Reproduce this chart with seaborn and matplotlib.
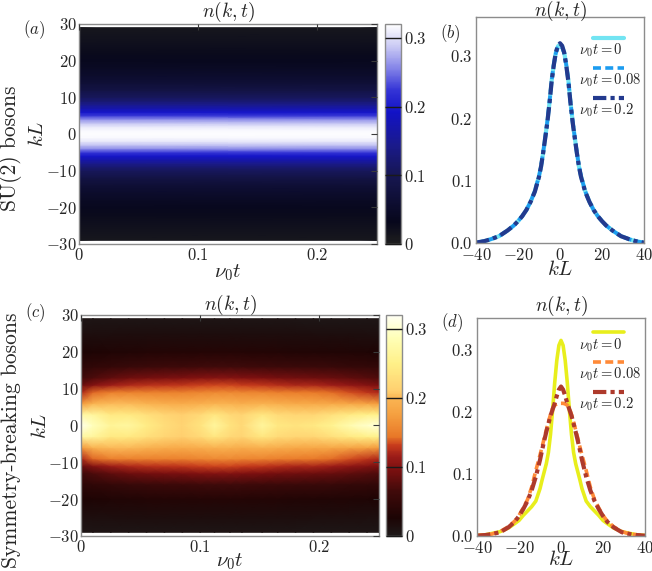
import numpy as np
import matplotlib
matplotlib.use("Agg")
import matplotlib.pyplot as plt
import seaborn as sns
from matplotlib.colors import LinearSegmentedColormap
from matplotlib.legend_handler import HandlerLine2D

# ---------------- data ----------------
# half momentum grid (kL >= 0); distributions are symmetric in kL
k_half = [0, 1, 2, 3, 4, 5, 6, 7, 8, 9, 10, 12, 14, 16, 18, 20, 22, 25, 29, 33, 36, 40]

# SU(2) bosons, n(k,t) at three times
n_su2_t0 = [0.318, 0.315, 0.305, 0.285, 0.26, 0.225, 0.195, 0.17, 0.145, 0.123, 0.107,
            0.083, 0.066, 0.053, 0.043, 0.035, 0.028, 0.02, 0.011, 0.006, 0.003, 0.0005]
n_su2_t008 = [0.316, 0.313, 0.304, 0.285, 0.26, 0.226, 0.196, 0.17, 0.146, 0.124, 0.107,
              0.083, 0.066, 0.053, 0.043, 0.035, 0.028, 0.02, 0.011, 0.006, 0.003, 0.0005]
n_su2_t02 = [0.32, 0.316, 0.305, 0.284, 0.258, 0.224, 0.194, 0.169, 0.145, 0.123, 0.106,
             0.082, 0.066, 0.053, 0.043, 0.035, 0.028, 0.02, 0.011, 0.006, 0.003, 0.0005]

# Symmetry-breaking bosons, n(k,t) at three times
n_sb_t0 = [0.314, 0.306, 0.282, 0.246, 0.202, 0.163, 0.134, 0.116, 0.103, 0.09, 0.076,
           0.056, 0.047, 0.04, 0.033, 0.025, 0.02, 0.013, 0.007, 0.004, 0.002, 0.001]
n_sb_t008 = [0.213, 0.213, 0.212, 0.21, 0.205, 0.195, 0.183, 0.17, 0.157, 0.143, 0.13,
             0.105, 0.078, 0.058, 0.045, 0.033, 0.024, 0.015, 0.007, 0.003, 0.002, 0.0005]
n_sb_t02 = [0.24, 0.235, 0.225, 0.213, 0.203, 0.193, 0.18, 0.167, 0.153, 0.138, 0.122,
            0.095, 0.073, 0.056, 0.043, 0.032, 0.023, 0.014, 0.006, 0.003, 0.0015, 0.0005]

# heatmap (a): stationary distribution over the time window
t_a = [0.0, 0.25]

# heatmap (c): rows of n(k,t) at fixed kL >= 0, sampled at times t_c
t_c = [0, 0.01, 0.025, 0.04, 0.055, 0.07, 0.085, 0.1, 0.112, 0.125, 0.135, 0.152,
       0.165, 0.18, 0.195, 0.21, 0.225, 0.24, 0.25]
k_c_half = [0, 3, 6, 9, 11, 13, 16, 20, 25, 29]
nc_k0 = [0.314, 0.29, 0.262, 0.268, 0.245, 0.228, 0.215, 0.235, 0.265, 0.235, 0.222, 0.265,
         0.24, 0.235, 0.24, 0.255, 0.28, 0.298, 0.305]
nc_k3 = [0.27, 0.265, 0.24, 0.242, 0.23, 0.218, 0.21, 0.222, 0.238, 0.222, 0.215, 0.238,
         0.224, 0.218, 0.218, 0.23, 0.242, 0.25, 0.252]
nc_k6 = [0.17, 0.195, 0.2, 0.2, 0.195, 0.19, 0.188, 0.192, 0.196, 0.194, 0.19, 0.194,
         0.19, 0.186, 0.184, 0.184, 0.182, 0.178, 0.172]
nc_k9 = [0.12, 0.14, 0.15, 0.152, 0.152, 0.152, 0.152, 0.156, 0.158, 0.158, 0.156, 0.154,
         0.15, 0.148, 0.146, 0.142, 0.135, 0.128, 0.122]
nc_k11 = [0.085, 0.1, 0.115, 0.122, 0.125, 0.127, 0.128, 0.132, 0.133, 0.133, 0.131, 0.128,
          0.124, 0.121, 0.12, 0.115, 0.108, 0.1, 0.095]
nc_k13 = [0.062, 0.07, 0.08, 0.088, 0.092, 0.094, 0.096, 0.099, 0.1, 0.1, 0.098, 0.095,
          0.092, 0.09, 0.088, 0.085, 0.08, 0.075, 0.072]
nc_k16 = [0.044, 0.047, 0.052, 0.056, 0.058, 0.06, 0.061, 0.063, 0.063, 0.063, 0.062, 0.061,
          0.059, 0.058, 0.057, 0.055, 0.052, 0.05, 0.049]
nc_k20 = [0.027, 0.028, 0.03, 0.032, 0.033, 0.033, 0.033, 0.034, 0.034, 0.034, 0.034, 0.033,
          0.033, 0.032, 0.032, 0.031, 0.03, 0.029, 0.028]
nc_k25 = [0.013, 0.014, 0.014, 0.015, 0.015, 0.015, 0.015, 0.015, 0.015, 0.015, 0.015, 0.015,
          0.015, 0.015, 0.014, 0.014, 0.014, 0.013, 0.013]
nc_k29 = [0.007, 0.007, 0.007, 0.007, 0.007, 0.007, 0.007, 0.007, 0.007, 0.007, 0.007, 0.007,
          0.007, 0.006, 0.006, 0.006, 0.006, 0.006, 0.006]

legend_labels = [r'$\nu_0 t = 0$', r'$\nu_0 t = 0.08$', r'$\nu_0 t = 0.2$']
cbar_ticks = [0, 0.1, 0.2, 0.3]
cbar_ticklabels = [r'$0$', r'$0.1$', r'$0.2$', r'$0.3$']
t_ticks = [0, 0.1, 0.2]
t_ticklabels = [r'$0$', r'$0.1$', r'$0.2$']
k_ticks = [-30, -20, -10, 0, 10, 20, 30]
k_ticklabels = [r'$-30$', r'$-20$', r'$-10$', r'$0$', r'$10$', r'$20$', r'$30$']
kl_ticks = [-40, -20, 0, 20, 40]
kl_ticklabels = [r'$-40$', r'$-20$', r'$0$', r'$20$', r'$40$']
n_ticks = [0.0, 0.1, 0.2, 0.3]
n_ticklabels = [r'$0.0$', r'$0.1$', r'$0.2$', r'$0.3$']

# ---------------- helpers ----------------
def mirror_k(kh):
    kh = np.asarray(kh, float)
    return np.concatenate([-kh[::-1], kh[1:]])

def mirror_v(vh):
    vh = np.asarray(vh, float)
    return np.concatenate([vh[::-1], vh[1:]], axis=0)

kL = mirror_k(k_half)

# ---------------- style ----------------
sns.set_style("white")
plt.rcParams['font.family'] = ['DejaVu Serif']
plt.rcParams['mathtext.fontset'] = 'cm'

W, H = 652, 571
fig = plt.figure(figsize=(W / 100, H / 100), dpi=100)

def fax(x0, y0, x1, y1):
    return fig.add_axes([x0 / W, 1 - y1 / H, (x1 - x0) / W, (y1 - y0) / H])

ax_a = fax(79, 24, 377, 244)
cax_a = fax(385, 24, 401, 244)
ax_b = fax(476, 17, 644, 243)
ax_c = fax(81, 315, 379, 536)
cax_c = fax(386, 315, 402, 536)
ax_d = fax(477, 318, 645, 536)

cmap_a = LinearSegmentedColormap.from_list('su2', [
    (0.0, '#1e1e1e'), (0.1, '#07071c'), (0.3, '#16164e'), (0.45, '#1a1a8c'),
    (0.6, '#1212c6'), (0.7, '#3434d6'), (0.8, '#8484e8'), (0.9, '#cacaf4'), (1.0, '#ffffff')])
cmap_c = LinearSegmentedColormap.from_list('sb', [
    (0.0, '#1e1a1a'), (0.08, '#1c0404'), (0.2, '#400a0a'), (0.3, '#7c1010'),
    (0.36, '#9c1c18'), (0.41, '#c83c1c'), (0.45, '#e87828'), (0.55, '#f5a040'),
    (0.62, '#fab452'), (0.66, '#ffd070'), (0.78, '#fff088'), (0.9, '#ffffb8'), (1.0, '#fffff4')])
VMAX = 0.32
spine_col = '#8c8c8c'

def style_heat(ax, title_pad):
    ax.set_axisbelow(False)
    for s in ax.spines.values():
        s.set_color(spine_col)
        s.set_linewidth(1.0)
    ax.set_xlim(0, 0.25)
    ax.set_ylim(-30, 30)
    ax.set_xticks(t_ticks, labels=t_ticklabels)
    ax.set_yticks(k_ticks, labels=k_ticklabels)
    ax.tick_params(direction='in', top=True, right=True, length=4.5, width=0.8,
                   color='#3a3a3a', labelsize=12)
    ax.tick_params(axis='y', pad=1.5)
    ax.tick_params(axis='x', pad=2.5)
    ax.set_xlabel(r'$\nu_0 t$', fontsize=15)
    ax.set_ylabel(r'$kL$', fontsize=15)
    ax.set_title(r'$n(k,t)$', fontsize=14, pad=title_pad)

def style_cbar(cb, cax):
    cax.set_axisbelow(False)
    cb.set_ticks(cbar_ticks, labels=cbar_ticklabels)
    cb.outline.set_edgecolor(spine_col)
    cb.outline.set_linewidth(1.0)
    cax.tick_params(direction='in', length=11.5, width=1.0, color='#1a1a1a',
                    labelsize=12, pad=2.5)

# ---- (a) SU(2) heatmap ----
mask29 = np.abs(kL) <= 29
k_a = kL[mask29]
prof_a = mirror_v(n_su2_t0)[mask29]
Z_a = np.column_stack([prof_a for _ in t_a])
m_a = ax_a.pcolormesh(t_a, k_a, Z_a, shading='gouraud', cmap=cmap_a, vmin=0, vmax=VMAX,
                      rasterized=True)
style_heat(ax_a, 5)
ax_a.xaxis.set_label_coords(0.5, -0.085)
ax_a.yaxis.set_label_coords(-0.107, 0.5)
cb_a = fig.colorbar(m_a, cax=cax_a)
style_cbar(cb_a, cax_a)

# ---- (c) symmetry-breaking heatmap ----
k_c = mirror_k(k_c_half)
Z_c_half = np.array([nc_k0, nc_k3, nc_k6, nc_k9, nc_k11, nc_k13, nc_k16, nc_k20, nc_k25, nc_k29])
Z_c = mirror_v(Z_c_half)
m_c = ax_c.pcolormesh(t_c, k_c, Z_c, shading='gouraud', cmap=cmap_c, vmin=0, vmax=VMAX,
                      rasterized=True)
style_heat(ax_c, 3.5)
ax_c.xaxis.set_label_coords(0.5, -0.072)
ax_c.yaxis.set_label_coords(-0.104, 0.5)
cb_c = fig.colorbar(m_c, cax=cax_c)
style_cbar(cb_c, cax_c)

# ---- line panels ----
class AboveHandler(HandlerLine2D):
    """Draw the legend sample above its label instead of beside it."""
    def __init__(self, dx, dy, **kw):
        super().__init__(**kw)
        self.dx = dx
        self.dy = dy

    def create_artists(self, legend, orig_handle, xdescent, ydescent, width, height,
                       fontsize, trans):
        return super().create_artists(legend, orig_handle, xdescent - self.dx,
                                      ydescent - 2 * self.dy, width, height, fontsize, trans)

def line_panel(ax, series, colors, styles, widths, ytop, leg_anchor, title_pad):
    for vals, c, ls, lw, lab in zip(series, colors, styles, widths, legend_labels):
        sns.lineplot(x=kL, y=mirror_v(vals), ax=ax, color=c, linestyle=ls, linewidth=lw,
                     label=lab, sort=False)
    for s in ax.spines.values():
        s.set_color(spine_col)
        s.set_linewidth(1.0)
    ax.set_xlim(-40, 40)
    ax.set_ylim(0, ytop)
    ax.set_xticks(kl_ticks, labels=kl_ticklabels)
    ax.set_yticks(n_ticks, labels=n_ticklabels)
    ax.tick_params(length=0, labelsize=12)
    ax.tick_params(axis='y', pad=2.5)
    ax.tick_params(axis='x', pad=3)
    ax.set_xlabel(r'$kL$', fontsize=15)
    ax.set_ylabel('')
    ax.set_title(r'$n(k,t)$', fontsize=14, pad=title_pad)
    handles = ax.get_lines()[:3]
    hmap = {h: AboveHandler(10, 8.6) for h in handles}
    ax.legend(handles=handles, labels=legend_labels, loc='upper right',
              bbox_to_anchor=leg_anchor, frameon=False, fontsize=10.5,
              handlelength=2.1, handletextpad=-2.1, labelspacing=0.85,
              borderpad=0, borderaxespad=0, handler_map=hmap)

line_panel(ax_b, [n_su2_t0, n_su2_t008, n_su2_t02],
           ['#72e4f2', '#1c9cf0', '#233a8e'], ['-', (0, (2.2, 1.2)), (0, (3.2, 1.0, 1.0, 1.0))],
           [3.0, 2.6, 3.0], 0.362, (0.985, 0.89), 0.5)
ax_b.xaxis.set_label_coords(0.5, -0.075)

line_panel(ax_d, [n_sb_t0, n_sb_t008, n_sb_t02],
           ['#e8ee1c', '#ff8a38', '#ae3a2c'], ['-', (0, (2.2, 1.2)), (0, (3.2, 1.0, 1.0, 1.0))],
           [2.6, 2.6, 3.0], 0.35, (0.98, 0.917), 5)
ax_d.xaxis.set_label_coords(0.5, -0.062)

# ---- panel labels and row labels ----
fig.text(34 / W, 1 - 30 / H, r'$(a)$', fontsize=12, ha='center', va='center')
fig.text(450 / W, 1 - 34 / H, r'$(b)$', fontsize=12, ha='center', va='center')
fig.text(35 / W, 1 - 313 / H, r'$(c)$', fontsize=12, ha='center', va='center')
fig.text(452 / W, 1 - 323 / H, r'$(d)$', fontsize=12, ha='center', va='center')
fig.text(11 / W, 1 - 148 / H, 'SU(2) bosons', family='cmr10', fontsize=15.5,
         rotation=90, ha='center', va='center')
fig.text(11 / W, 1 - 440 / H, 'Symmetry-breaking bosons', family='cmr10', fontsize=15.5,
         rotation=90, ha='center', va='center')

fig.savefig('out.png', dpi=100)
